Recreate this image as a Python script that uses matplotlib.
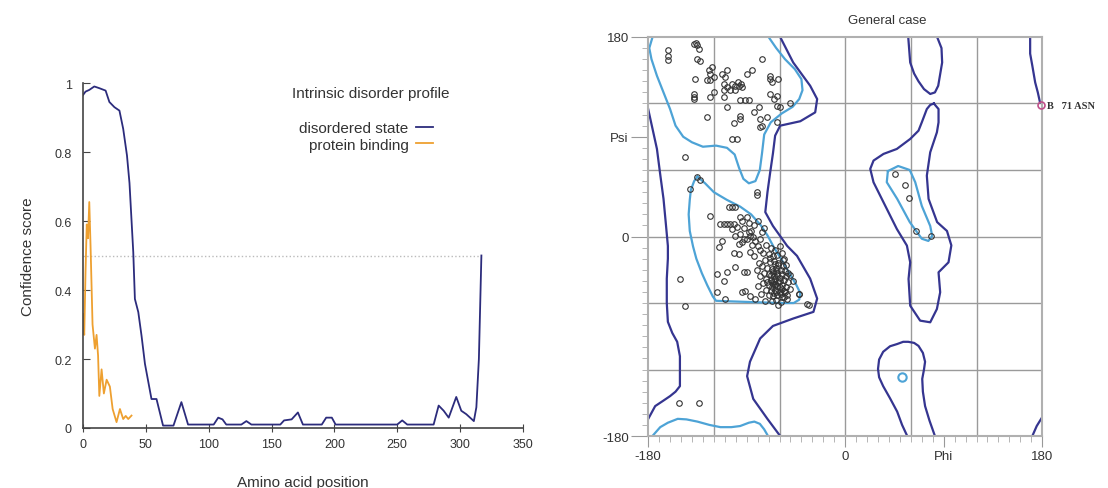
import numpy as np
import matplotlib
matplotlib.use('Agg')
import matplotlib.pyplot as plt
from matplotlib.ticker import MultipleLocator

plt.rcParams['font.family'] = ['Liberation Sans', 'DejaVu Sans']

# ---- left panel: disorder profile ----
dis_pos = [0, 2, 5, 9, 13, 18, 21, 25, 29, 32, 35, 37, 40, 41.3, 44, 46.6, 49.3, 52, 54.5, 58.5,
           63.7, 72, 78.3, 83.6, 98, 104, 107.6, 111, 114, 126, 130, 134, 157, 160, 166, 171, 175,
           190, 193.5, 198, 201, 250, 254, 258, 279, 283, 287, 291, 297, 301, 305, 308, 311, 313,
           315, 317]
dis_val = [0.965, 0.975, 0.98, 0.99, 0.985, 0.978, 0.945, 0.93, 0.92, 0.867, 0.79, 0.71, 0.51,
           0.374, 0.336, 0.267, 0.186, 0.133, 0.084, 0.084, 0.007, 0.007, 0.075, 0.01, 0.01, 0.01,
           0.03, 0.025, 0.01, 0.01, 0.02, 0.01, 0.01, 0.022, 0.025, 0.045, 0.01, 0.01, 0.03, 0.03,
           0.01, 0.01, 0.022, 0.01, 0.01, 0.065, 0.05, 0.03, 0.09, 0.05, 0.04, 0.03, 0.02, 0.06,
           0.2, 0.5]
bind_pos = [0, 1, 2, 3, 4, 5, 6, 7.6, 9.5, 10.8, 12, 13, 14.8, 16.6, 18.8, 21.4, 23.6, 26.7,
            29.4, 32, 34, 36, 38.6]
bind_val = [0.33, 0.27, 0.45, 0.59, 0.55, 0.655, 0.53, 0.30, 0.23, 0.27, 0.21, 0.093, 0.17, 0.10,
            0.14, 0.12, 0.055, 0.017, 0.055, 0.026, 0.035, 0.026, 0.036]
threshold = 0.5
thr_end = 315

# ---- right panel: Ramachandran plot ----
# favoured (light blue) contours
lb_beta_phi = [-176, -179, -177, -172, -166, -160, -155, -148, -140, -130, -118, -108, -101, -97,
               -93, -88, -82, -78, -76, -74, -68, -58, -48, -42, -39, -40, -46, -55, -63, -70]
lb_beta_psi = [180, 170, 160, 145, 130, 115, 100, 90, 85, 81, 82, 80, 74, 62, 52, 48, 50, 60, 75,
               92, 103, 111, 117, 124, 132, 142, 151, 160, 170, 180]
lb_alpha_phi = [-135, -128, -120, -108, -96, -86, -77, -71, -65, -58, -51, -45, -41, -42, -47, -60,
                -75, -90, -105, -118, -121, -126, -131, -136, -139, -142, -143, -142, -141, -138,
                -135]
lb_alpha_psi = [54, 48, 40, 33, 27, 20, 10, 1, -10, -21, -33, -43, -51, -57, -60, -60, -59.5, -59,
                -58.5, -58, -54, -44, -33, -20, -9, 5, 20, 33, 42, 50, 54]
lb_bot_phi = [-177, -169, -162, -153, -145, -135, -124, -114, -104, -96, -88, -83, -78, -74, -70.5]
lb_bot_psi = [-181, -172, -168, -164.5, -165, -167, -170, -172, -172, -171, -168, -167, -169, -174,
              -180]
lb_lh_phi = [39, 48.4, 59, 64, 70, 77.7, 79.5, 76, 70, 59, 47.5, 38, 39]
lb_lh_psi = [59, 63.6, 60, 49, 27.6, 9.5, 0.5, -4, -2, 13, 34, 49, 59]
lb_dot_phi = [52]
lb_dot_psi = [-127]

# allowed (dark blue) contours
dk_left_phi = [-180, -176, -172, -169, -166, -164, -162, -162, -163, -163, -162, -158, -153.5,
               -151, -151, -151, -155, -160, -166, -173.6, -180]
dk_left_psi = [115, 97, 79, 56, 34, 13, -8.5, -20, -38, -60, -77, -87, -95, -108, -119.5, -135,
               -140, -144, -148, -153, -164.6]
dk_main_phi = [-59.4, -47.5, -32, -25.6, -27.4, -41, -59.4, -64, -66, -68.5, -71, -73, -66, -53,
               -44, -32, -25.6, -29, -47.5, -66, -77.7, -87, -89.6, -84, -71, -59.4]
dk_main_psi = [180, 157, 136, 124, 112, 104, 100, 91, 75, 58, 40, 22, 9.5, -8.5, -17.5, -38, -56,
               -68, -74, -80.7, -92, -113, -126, -146.5, -164.6, -180]
dk_top_phi = [57.6, 59.4, 63, 67, 72, 77.7, 82, 85, 88.6, 88, 84]
dk_top_psi = [180, 157, 147, 140, 133, 128.6, 130, 136, 157, 170, 180]
dk_lh_phi = [81, 77.7, 74.6, 70, 67, 59.4, 47.2, 35, 25.9, 22.9, 25.9, 35, 47.2, 56.4, 59.4, 57.9,
             59.4, 68.5, 77.7, 83.8, 86.8, 85.3, 94.4, 97, 93, 84, 76.2, 74.6, 77.7, 83.8, 85.3,
             85.3, 81]
dk_lh_psi = [120, 118.7, 115, 103, 95.5, 88, 79, 74.5, 68.5, 61, 48.9, 30.9, 6.8, -8.2, -23.3,
             -38.3, -62.4, -75.9, -77.4, -65.4, -50.3, -32.3, -23.3, -8, 5, 13, 33.9, 54.9, 76,
             94, 103, 115, 120]
dk_low_phi = [56.7, 52, 47.5, 41, 34.7, 31, 30, 31, 34.7, 41, 47.5, 53, 57.6, 63, 67, 71, 73, 72,
              70.4, 71, 73, 77, 82]
dk_low_psi = [-180, -170, -158, -146, -135, -127, -119.5, -111, -104, -99, -97, -95, -95, -96,
              -98.7, -105, -113, -120, -128.5, -140, -153, -166, -180]
dk_tr_phi = [169, 169, 171, 173.6, 176, 178]
dk_tr_psi = [180, 165, 154, 139, 130, 121]
dk_br_phi = [171, 175, 180]
dk_br_psi = [-180, -171, -163]

# residues (phi, psi)
res_phi = [
    -162.3, -162.3, -162, -138.5, -135.5, -134, -136, -135.5, -132.4, -137,
    -124.8, -123.3, -121.8, -126.4, -123.3, -120.3, -138.5, -138.5, -138.5, -120.3, -123.3,
    -112.7, -108, -109.6, -111, -108, -103.5, -100.5, -97.4, -94.4, -105, -100.5, -111, -98, -95,
    -111, -96, -91.3, -88.3, -108, -126.4, -96, -96, -102, -103.5, -99, -89.8, -85, -76,
    -68.5, -68.5, -67, -61, -68.5, -65.4, -62.4, -83.7, -79, -77.6, -71.5, -76, -77.6,
    -62.4, -59.3, -50, -62.4, -146, -80.4, -80.4,
    -135.5, -133, -142.2, -123.3, -106.6, -103.5, -100.5, -114.2, -111, -108, -105, -102,
    -96, -94.4, -99, -103.5, -88.3, -86.8, -89.8, -94.4, -97.4, -100.5, -112.7, -115.7,
    -102, -97.4, -117, -108, -111, -100.5, -92.9, -89.3, -117, -109.6, -94.4, -91.3, -86.8,
    -82.2, -151.3, -146, -152.2, -134, -42.6, -33.5, -56.3,
    -72, -68, -64, -60, -75, -70, -66, -62, -58, -73, -69, -65, -61, -57, -54, -76, -71, -67,
    -63, -59, -55, -74, -70, -66, -62, -58, -54, -72, -68, -64, -60, -56, -52, -75, -70, -66,
    -62, -58, -54, -72, -68, -64, -60, -56, -70, -66, -62, -58, -67, -63, -59, -65, -61, -63,
    -67, -57, -69, -65, -60, -71, -64, -55, -52, -78, -80, -77, -50, -48, -53, -61, -73, -79,
    -81, -90, -88, -92, -86, -84, -82, -80, -78, -76, -83, -80, -74, -85, -87, -83, -78, -92,
    -96, -56, -50, -42.6, -35, -53,
    -66, -62, -64, -60, -68, -58, -65, -61, -63, -67, -59, -64,
    45.1, 54.9, 58.5, 64.9, 78.3]
res_psi = [
    168, 163, 159, 173.4, 172.5, 169.5, 175, 160.5, 158.3, 142.4,
    150, 147, 153, 141, 141, 144, 129, 126, 124, 130.4, 126,
    147, 150, 144, 138, 135, 138, 136, 136, 135, 132, 132, 132, 139, 138,
    126, 123, 123, 123, 117, 108, 109, 106, 102, 88, 88, 147, 150, 160.5,
    145, 142, 139.4, 142, 129, 124, 127, 112, 117, 106, 108, 100, 99,
    118, 117, 120, 103, 72, 40, 37,
    53.4, 51, 42.8, 18.8, 26.3, 26.9, 26.3, 11.3, 11.3, 11.3, 11.3, 11.3,
    17.3, 14.3, 8.3, 6.8, 3.8, 0.8, -2.3, -5.3, -6.8, 0.8, -3.8, -9.8,
    -15.2, -15.8, -33.8, -32.3, -39.8, -27.8, -32.3, -32.3, -50.4, -56.4, -50.4, -48.9, -53.3,
    -56.3, -38.3, -62.4, -150.2, -150.2, -51.8, -61.8, -54.8,
    -8, -10, -12, -9, -15, -16, -18, -17, -15, -21, -23, -22, -24, -21, -26, -27, -28, -29,
    -28, -30, -31, -33, -34, -33, -35, -34, -36, -38, -39, -38, -40, -39, -41, -42, -44, -43,
    -45, -44, -46, -48, -49, -48, -50, -49, -53, -54, -53, -55, -58, -57, -59, -36, -41, -31,
    -46, -27, -19, -51, -46, -41, -25, -50, -33, -36, -45, -52, -47, -40, -56, -62, -58, -24,
    -30, 18, 12, 8, 5, 0, -4, -9, -2, 4, 10, 14, 8, -8, -14, -18, -12, -2,
    2, -20, -35, -52, -61, -53,
    -31, -33, -43, -37, -35, -47, -40, -26, -50, -41, -52, -44,
    56.4, 46.5, 34.8, 5.3, 0.2]
out_phi = [178.5]
out_psi = [118.6]
out_label = 'B   71 ASN'

grid_vals = [-120, -60, 0, 60, 120]

navy = '#2c2c7c'
orange = '#eea030'
lblue = '#4da3d6'
dblue = '#353590'
txt = '#333333'

fig = plt.figure(figsize=(11.08, 4.89), dpi=100)

# left axes
ax = fig.add_axes([0.0749, 0.1227, 0.397, 0.7055])
ax.plot([0, thr_end], [threshold, threshold], ':', color='#bbbbbb', lw=1.0)
ax.plot(dis_pos, dis_val, color=navy, lw=1.3, label='disordered state')
ax.plot(bind_pos, bind_val, color=orange, lw=1.3, label='protein binding')
ax.set_xlim(0, 350)
ax.set_ylim(0, 1)
ax.spines['top'].set_visible(False)
ax.spines['right'].set_visible(False)
for s in ['left', 'bottom']:
    ax.spines[s].set_color('#444444')
    ax.spines[s].set_linewidth(1.2)
ax.set_xticks([0, 50, 100, 150, 200, 250, 300, 350])
ax.set_yticks([0, 0.2, 0.4, 0.6, 0.8, 1])
ax.set_yticklabels(['0', '0.2', '0.4', '0.6', '0.8', '1'])
ax.tick_params(axis='x', direction='inout', length=6, colors='#444444', labelcolor=txt,
               labelsize=9, pad=4)
ax.tick_params(axis='y', direction='in', length=5, colors='#444444', labelcolor=txt,
               labelsize=9, pad=8)
ax.set_xlabel('Amino acid position', fontsize=11, color=txt, labelpad=18)
ax.set_ylabel('Confidence score', fontsize=11, color=txt, labelpad=14)
ax.text(0.655, 0.97, 'Intrinsic disorder profile', transform=ax.transAxes, ha='center',
        va='center', fontsize=11, color=txt)
leg = ax.legend(loc='upper right', bbox_to_anchor=(0.82, 0.92), frameon=False,
                markerfirst=False, handlelength=1.1, handletextpad=0.5, labelspacing=0.15,
                fontsize=11, borderpad=0.2)
for t in leg.get_texts():
    t.set_color(txt)

# right axes
ax2 = fig.add_axes([0.585, 0.1063, 0.3556, 0.816])
for g in grid_vals:
    ax2.axvline(g, color='#9a9a9a', lw=1.0, zorder=0)
    ax2.axhline(g, color='#9a9a9a', lw=1.0, zorder=0)

for xs, ys in [(lb_beta_phi, lb_beta_psi), (lb_alpha_phi, lb_alpha_psi),
               (lb_bot_phi, lb_bot_psi), (lb_lh_phi, lb_lh_psi)]:
    ax2.plot(xs, ys, color=lblue, lw=1.6, zorder=2)
ax2.plot(lb_dot_phi, lb_dot_psi, 'o', mfc='none', mec=lblue, mew=1.5, ms=6, zorder=2)
for xs, ys in [(dk_left_phi, dk_left_psi), (dk_main_phi, dk_main_psi),
               (dk_top_phi, dk_top_psi), (dk_lh_phi, dk_lh_psi), (dk_low_phi, dk_low_psi),
               (dk_tr_phi, dk_tr_psi), (dk_br_phi, dk_br_psi)]:
    ax2.plot(xs, ys, color=dblue, lw=1.6, zorder=2)

ax2.plot(res_phi, res_psi, 'o', mfc='none', mec='#333333', mew=0.8, ms=4, zorder=3)
ax2.plot(out_phi, out_psi, 'o', mfc='none', mec='#c0508a', mew=1.2, ms=5, zorder=4,
         clip_on=False)
ax2.text(out_phi[0] + 6, out_psi[0], out_label, family='Liberation Serif', fontsize=7.5,
         fontweight='bold', color='#333333', va='center', ha='left', clip_on=False)

ax2.set_xlim(-180, 180)
ax2.set_ylim(-180, 180)
for s in ax2.spines.values():
    s.set_color('#b0b0b0')
    s.set_linewidth(1.5)
ax2.set_xticks([-180, 0, 90, 180])
ax2.set_xticklabels(['-180', '0', 'Phi', '180'])
ax2.set_yticks([-180, 0, 90, 180])
ax2.set_yticklabels(['-180', '0', 'Psi', '180'])
ax2.xaxis.set_minor_locator(MultipleLocator(10))
ax2.yaxis.set_minor_locator(MultipleLocator(10))
ax2.tick_params(axis='x', which='major', length=8, color='#999999', labelsize=9.5,
                labelcolor=txt, pad=2)
ax2.tick_params(axis='y', which='major', length=12, color='#999999', labelsize=9.5,
                labelcolor=txt, pad=2)
ax2.tick_params(which='minor', length=4, color='#aaaaaa')
ax2.text(38, 195, 'General case', ha='center', va='center', fontsize=9.5, color=txt)

fig.savefig('out.png', dpi=100)
